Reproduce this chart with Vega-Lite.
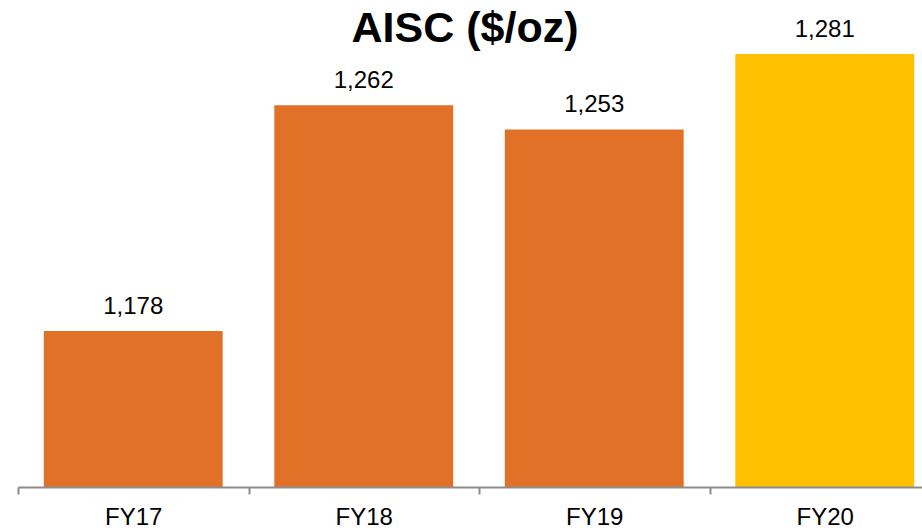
{
  "$schema": "https://vega.github.io/schema/vega-lite/v6.json",
  "width": 904,
  "height": 484,
  "autosize": "none",
  "padding": {"left": 18, "top": 3, "right": 0, "bottom": 43},
  "background": "white",
  "title": {
    "text": "AISC ($/oz)",
    "font": "Liberation Sans",
    "fontSize": 43,
    "fontWeight": "bold",
    "color": "black",
    "baseline": "alphabetic",
    "offset": -82,
    "dx": -5
  },
  "data": {
    "values": [
      {"year": "FY17", "aisc": 1178, "kind": "actual"},
      {"year": "FY18", "aisc": 1262, "kind": "actual"},
      {"year": "FY19", "aisc": 1253, "kind": "actual"},
      {"year": "FY20", "aisc": 1281, "kind": "guidance"}
    ]
  },
  "config": {"view": {"stroke": null}},
  "encoding": {
    "x": {
      "field": "year",
      "type": "nominal",
      "sort": null,
      "scale": {"range": [0, 922], "paddingInner": 0, "paddingOuter": 0},
      "axis": {
        "title": null,
        "labelAngle": 0,
        "labelFont": "Liberation Sans",
        "labelFontSize": 24,
        "labelColor": "black",
        "labelPadding": 11,
        "tickBand": "extent",
        "domainColor": "#8c8c8c",
        "domainWidth": 2,
        "tickColor": "#8c8c8c",
        "tickWidth": 2,
        "tickSize": 7,
        "zindex": 1
      }
    },
    "y": {
      "field": "aisc",
      "type": "quantitative",
      "scale": {"domain": [1120, 1300], "nice": false, "zero": false},
      "axis": null
    }
  },
  "layer": [
    {
      "mark": {"type": "bar", "width": {"band": 0.776}},
      "encoding": {
        "y2": {"datum": 1120},
        "color": {
          "field": "kind",
          "type": "nominal",
          "scale": {"domain": ["actual", "guidance"], "range": ["#E07126", "#FFC000"]},
          "legend": null
        }
      }
    },
    {
      "mark": {"type": "text", "baseline": "alphabetic", "dy": -17, "font": "Liberation Sans", "fontSize": 24, "color": "black"},
      "encoding": {
        "text": {"field": "aisc", "type": "quantitative", "format": ","}
      }
    }
  ]
}
